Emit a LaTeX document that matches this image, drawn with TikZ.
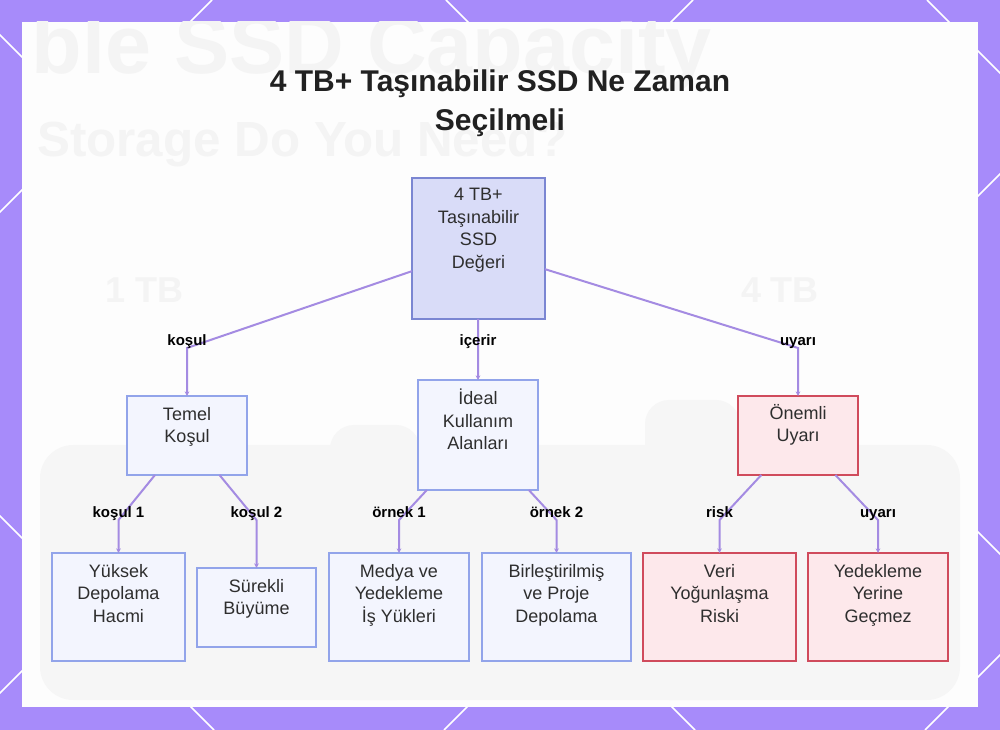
\documentclass[tikz,border=0pt]{standalone}
\usepackage{fontspec}
\setmainfont{Liberation Sans}
\usetikzlibrary{arrows.meta}
\definecolor{bgpurple}{HTML}{A78BFA}
\definecolor{panel}{HTML}{FDFDFD}
\definecolor{rootfill}{HTML}{D9DCF8}
\definecolor{rootdraw}{HTML}{7B86D2}
\definecolor{bluefill}{HTML}{F3F5FE}
\definecolor{bluedraw}{HTML}{92A4EA}
\definecolor{redfill}{HTML}{FDE8EB}
\definecolor{reddraw}{HTML}{D04B5C}
\definecolor{conncol}{HTML}{A48BE2}
\definecolor{txtcol}{HTML}{2E2E2E}
\definecolor{ghost}{HTML}{F4F4F4}
\definecolor{ghostshade}{HTML}{F6F6F6}
\tikzset{
 boxbase/.style={draw, line width=1.2pt, inner sep=0pt, outer sep=0pt, anchor=north west},
 rootbox/.style={boxbase, fill=rootfill, draw=rootdraw},
 bluebox/.style={boxbase, fill=bluefill, draw=bluedraw},
 redbox/.style={boxbase, fill=redfill, draw=reddraw},
 boxtext/.style={anchor=north, align=center, inner sep=0pt, text=txtcol, font=\fontsize{13.5}{16.9}\selectfont},
 lbl/.style={font=\bfseries\fontsize{11.25}{13}\selectfont, text=black, anchor=base, yshift=1.5pt, inner sep=0pt},
 conn/.style={draw=conncol, line width=1.5pt, -{Stealth[length=3.5pt,width=3.5pt]}},
 ghosttext/.style={text=ghost, inner sep=0pt, font=\bfseries},
 lattice/.style={draw=white, line width=1.1pt},
}
\begin{document}
\begin{tikzpicture}[x=0.75pt,y=-0.75pt]
\useasboundingbox (0,0) rectangle (1000,730);
% background
\fill[bgpurple] (0,0) rectangle (1000,730);
\begin{scope}
\clip (0,0) rectangle (1000,730);
\foreach \c in {-269,212,693,1174,1655} \draw[lattice] (\c,0) -- ({\c-730},730);
\foreach \d in {516,35,-446,-927} \draw[lattice] ({-\d},0) -- ({730-\d},730);
\end{scope}
\fill[panel] (22,22) rectangle (978,707);
% faint blurred backdrop
\begin{scope}
\clip (22,22) rectangle (978,707);
\node[ghosttext, anchor=base east, font=\bfseries\fontsize{62}{62}\selectfont] (g1) at (712,74) {ble SSD Capacity};
\node[ghosttext, anchor=base west, font=\bfseries\fontsize{37}{37}\selectfont] (g2) at (37,157) {Storage Do You Need?};
\node[ghosttext, font=\bfseries\fontsize{27}{27}\selectfont] (g3) at (145,290) {1 TB};
\node[ghosttext, font=\bfseries\fontsize{27}{27}\selectfont] (g4) at (780,290) {4 TB};
\fill[ghostshade, rounded corners=25pt] (40,445) rectangle (960,700);
\fill[ghostshade, rounded corners=18pt] (330,425) rectangle (420,700);
\fill[ghostshade, rounded corners=18pt] (645,400) rectangle (740,700);
\end{scope}
% title
\node[anchor=north, align=center, inner sep=0pt, text=black!87, font=\bfseries\fontsize{22.5}{29.25}\selectfont] (title) at (500,70) {4 TB+ Taşınabilir SSD Ne Zaman\\Seçilmeli};
% boxes
\node[rootbox, minimum width=99.75pt, minimum height=105.75pt] (root) at (412,178) {};
\node[bluebox, minimum width=90pt, minimum height=59.25pt] (temel) at (127,396) {};
\node[bluebox, minimum width=90pt, minimum height=82.5pt] (ideal) at (418,380) {};
\node[redbox, minimum width=90pt, minimum height=59.25pt] (onemli) at (738,396) {};
\node[bluebox, minimum width=99.75pt, minimum height=81pt] (yuksek) at (52,553) {};
\node[bluebox, minimum width=89.25pt, minimum height=59.25pt] (surekli) at (197,568) {};
\node[bluebox, minimum width=105pt, minimum height=81pt] (medya) at (329,553) {};
\node[bluebox, minimum width=111.75pt, minimum height=81pt] (birles) at (482,553) {};
\node[redbox, minimum width=114.75pt, minimum height=81pt] (veri) at (643,553) {};
\node[redbox, minimum width=105pt, minimum height=81pt] (yedek) at (808,553) {};
% box texts
\node[boxtext] (root-t) at (478.5,188) {4 TB+\\Taşınabilir\\SSD\\Değeri};
\node[boxtext] (temel-t) at (187,407) {Temel\\Koşul};
\node[boxtext] (ideal-t) at (478,389) {İdeal\\Kullanım\\Alanları};
\node[boxtext] (onemli-t) at (798,404) {Önemli\\Uyarı};
\node[boxtext] (yuksek-t) at (118.5,564) {Yüksek\\Depolama\\Hacmi};
\node[boxtext] (surekli-t) at (256.5,579) {Sürekli\\Büyüme};
\node[boxtext] (medya-t) at (399,564) {Medya ve\\Yedekleme\\İş Yükleri};
\node[boxtext] (birles-t) at (556.5,564) {Birleştirilmiş\\ve Proje\\Depolama};
\node[boxtext] (veri-t) at (719.5,564) {Veri\\Yoğunlaşma\\Riski};
\node[boxtext] (yedek-t) at (878,564) {Yedekleme\\Yerine\\Geçmez};
% bends
\coordinate (b1) at (187,348);
\coordinate (b2) at (478,348);
\coordinate (b3) at (798,348);
\coordinate (c1) at (118.5,520);
\coordinate (c2) at (256.5,520);
\coordinate (c3) at (399,520);
\coordinate (c4) at (556.5,520);
\coordinate (c5) at (719.5,520);
\coordinate (c6) at (878,520);
% connectors
\draw[conn] (root) -- (b1) node[lbl] (l1) {koşul} -- (temel);
\draw[conn] (root) -- (b2) node[lbl] (l2) {içerir} -- (ideal);
\draw[conn] (root) -- (b3) node[lbl] (l3) {uyarı} -- (onemli);
\draw[conn] (temel) -- (c1) node[lbl] (l4) {koşul 1} -- (yuksek);
\draw[conn] (temel) -- (c2) node[lbl] (l5) {koşul 2} -- (surekli);
\draw[conn] (ideal) -- (c3) node[lbl] (l6) {örnek 1} -- (medya);
\draw[conn] (ideal) -- (c4) node[lbl] (l7) {örnek 2} -- (birles);
\draw[conn] (onemli) -- (c5) node[lbl] (l8) {risk} -- (veri);
\draw[conn] (onemli) -- (c6) node[lbl] (l9) {uyarı} -- (yedek);
\end{tikzpicture}
\end{document}
